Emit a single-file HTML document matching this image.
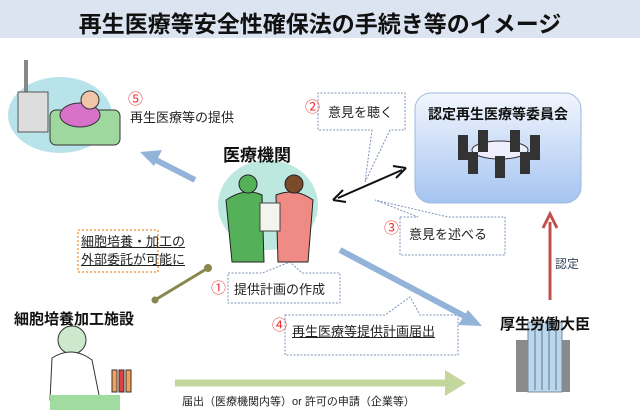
<!DOCTYPE html>
<html><head><meta charset="utf-8"><style>
body{margin:0;width:640px;height:410px;background:#fff;position:relative;overflow:hidden;font-family:"Liberation Sans","Noto Sans CJK JP",sans-serif;}
.a{position:absolute;white-space:nowrap;}
.b{font-weight:bold;color:#111;}
.n{color:#e33;}
</style></head><body>
<div class="a" style="left:0;top:0;width:640px;height:38px;background:#dbe4f0;"></div>
<div class="a b" style="left:0;top:5px;width:640px;text-align:center;font-size:23px;">再生医療等安全性確保法の手続き等のイメージ</div>

<svg class="a" style="left:0;top:0" width="640" height="410">
<defs>
<linearGradient id="g" x1="0" y1="0" x2="0" y2="1"><stop offset="0" stop-color="#f2f6fd"/><stop offset="1" stop-color="#a5c4f1"/></linearGradient>
</defs>
<rect x="415" y="93" width="166" height="110" rx="16" fill="url(#g)" stroke="#9db8e0"/>
<ellipse cx="500" cy="150" rx="28" ry="9" fill="#eef" stroke="#333"/>
<g fill="#333"><rect x="458" y="135" width="10" height="25"/><rect x="478" y="130" width="10" height="22"/><rect x="510" y="130" width="10" height="22"/><rect x="530" y="135" width="10" height="25"/><rect x="468" y="152" width="10" height="22"/><rect x="495" y="156" width="10" height="22"/><rect x="520" y="152" width="10" height="22"/></g>
<g fill="#fff" stroke="#7d93b8" stroke-dasharray="2,1.5">
<path d="M318 115 V93 H405 V130 H390 L365 182 L372 130 H318 Z"/>
<path d="M400 217 H418 L375 200 L448 217 H505 V255 H400 Z"/>
<path d="M228 273 H262 L290 262 L302 273 H340 V303 H228 Z"/>
<path d="M285 315 H385 L410 297 L420 315 H458 V355 H285 Z"/>
</g>
<line x1="195" y1="180" x2="152" y2="158" stroke="#94b3d9" stroke-width="6"/>
<path d="M140 152 L162 150 L154 166 Z" fill="#94b3d9"/>
<line x1="340" y1="250" x2="468" y2="318" stroke="#94b3d9" stroke-width="6"/>
<path d="M482 326 L458 325 L468 310 Z" fill="#94b3d9"/>
<line x1="338" y1="198" x2="402" y2="170" stroke="#111" stroke-width="2"/>
<path d="M333 200 L343 190 M333 200 L346 202 M406 168 L396 178 M406 168 L393 166" stroke="#111" stroke-width="2" fill="none"/>
<line x1="550" y1="300" x2="550" y2="222" stroke="#c0504d" stroke-width="3"/>
<path d="M543 228 L550 214 L557 228" stroke="#c0504d" stroke-width="3" fill="none"/>
<line x1="175" y1="383" x2="450" y2="383" stroke="#c3d69b" stroke-width="7"/>
<path d="M445 370 L466 383 L445 396 Z" fill="#c3d69b"/>
<line x1="155" y1="300" x2="208" y2="268" stroke="#8b8650" stroke-width="3"/>
<circle cx="155" cy="300" r="3.5" fill="#8b8650"/><circle cx="208" cy="268" r="4" fill="#8b8650"/>
<ellipse cx="60" cy="115" rx="52" ry="38" fill="#b9e3ea"/>
<rect x="24" y="60" width="4" height="70" fill="#888"/>
<rect x="18" y="92" width="30" height="40" fill="#ddd" stroke="#555"/>
<rect x="50" y="110" width="70" height="35" rx="6" fill="#9fd89f" stroke="#333"/>
<ellipse cx="80" cy="115" rx="20" ry="12" fill="#d772c8" stroke="#333"/>
<circle cx="90" cy="100" r="9" fill="#f1c5a8" stroke="#333"/>
<ellipse cx="268" cy="205" rx="50" ry="45" fill="#bde8df"/>
<path d="M226 200 Q245 187 262 195 L264 262 H232 Z" fill="#55b05a" stroke="#222"/>
<circle cx="248" cy="184" r="9" fill="#55b05a" stroke="#222"/>
<path d="M276 195 Q295 187 313 200 L308 262 H278 Z" fill="#f08a85" stroke="#222"/>
<circle cx="294" cy="184" r="9" fill="#7a4a2a" stroke="#222"/>
<rect x="260" y="203" width="20" height="28" fill="#f4f4ee" stroke="#444"/>
<circle cx="72" cy="340" r="14" fill="#cde9cd" stroke="#333"/>
<path d="M52 358 Q72 345 92 360 L100 400 H50 Z" fill="#fff" stroke="#333"/>
<rect x="50" y="395" width="70" height="15" fill="#a0dca0"/>
<g stroke="#333" stroke-width="1"><rect x="112" y="370" width="5" height="22" fill="#f5a05a"/><rect x="119" y="370" width="5" height="22" fill="#e04040"/><rect x="126" y="370" width="5" height="22" fill="#f5a05a"/></g>
<rect x="516" y="340" width="54" height="52" fill="#8a8a8a"/>
<rect x="528" y="322" width="34" height="70" fill="#bcd6ec" stroke="#7a8a9a"/>
<g stroke="#5a7a9a"><line x1="535" y1="328" x2="535" y2="390"/><line x1="542" y1="328" x2="542" y2="390"/><line x1="549" y1="328" x2="549" y2="390"/><line x1="556" y1="328" x2="556" y2="390"/></g>
<rect x="78" y="230" width="80" height="42" fill="#fff" stroke="#f59d4f" stroke-width="1.5" stroke-dasharray="2,2"/>
</svg>

<div class="a b" style="left:415px;top:104px;width:166px;text-align:center;font-size:14px;">認定再生医療等委員会</div>
<div class="a b" style="left:223px;top:141px;font-size:17px;">医療機関</div>
<div class="a b" style="left:14px;top:308px;font-size:15px;">細胞培養加工施設</div>
<div class="a b" style="left:500px;top:313px;font-size:15px;">厚生労働大臣</div>

<div class="a n" style="left:128px;top:88px;font-size:15px;">⑤</div>
<div class="a" style="left:130px;top:107px;font-size:13px;color:#222;">再生医療等の提供</div>
<div class="a n" style="left:305px;top:96px;font-size:15px;">②</div>
<div class="a" style="left:328px;top:102px;font-size:13px;color:#222;">意見を聴く</div>
<div class="a n" style="left:384px;top:217px;font-size:15px;">③</div>
<div class="a" style="left:409px;top:224px;font-size:13px;color:#222;">意見を述べる</div>
<div class="a n" style="left:211px;top:277px;font-size:15px;">①</div>
<div class="a" style="left:234px;top:279px;font-size:13px;color:#222;">提供計画の作成</div>
<div class="a n" style="left:272px;top:314px;font-size:15px;">④</div>
<div class="a" style="left:292px;top:321px;font-size:13px;color:#222;text-decoration:underline;">再生医療等提供計画届出</div>
<div class="a" style="left:81px;top:233px;font-size:13px;line-height:18px;color:#222;text-align:center;text-decoration:underline;">細胞培養・加工の<br>外部委託が可能に</div>
<div class="a" style="left:555px;top:255px;font-size:12px;color:#345;">認定</div>
<div class="a" style="left:182px;top:393px;font-size:11px;color:#222;">届出（医療機関内等）or 許可の申請（企業等）</div>
</body></html>
